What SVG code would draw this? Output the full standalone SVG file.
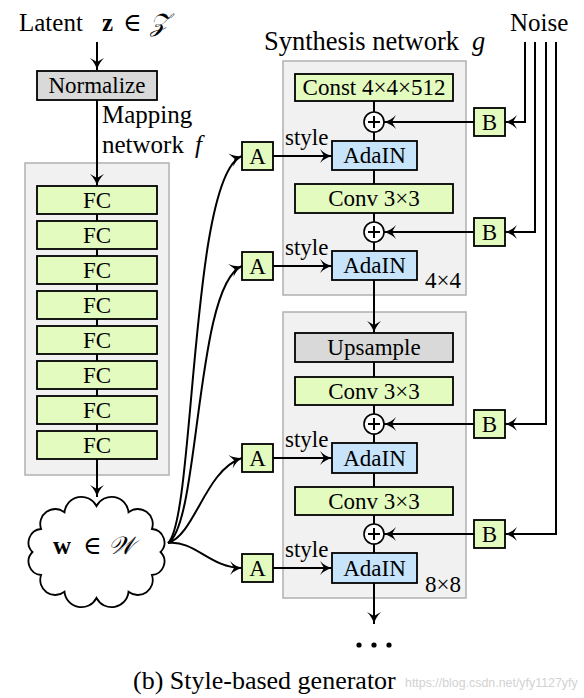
<svg xmlns="http://www.w3.org/2000/svg" width="584" height="698" viewBox="0 0 584 698">
<style>
text{font-family:"Liberation Serif","DejaVu Serif",serif;fill:#000}
.lbl{font-size:25px}
.bt{font-size:23px;text-anchor:middle}
.st{font-size:23px}
.panel{fill:#f1f1f1;stroke:#b0b0b0;stroke-width:1.5}
.g{fill:#e4fbc0;stroke:#000;stroke-width:1.8}
.b{fill:#c8e4fb;stroke:#000;stroke-width:1.8}
.gr{fill:#d9d9d9;stroke:#000;stroke-width:1.8}
.ln{fill:none;stroke:#000;stroke-width:2}
.ar{fill:none;stroke:#000;stroke-width:2;marker-end:url(#ah)}
.pl{fill:#fff;stroke:#000;stroke-width:1.6}
.wm{font-family:"Liberation Sans",sans-serif;font-size:12.4px;fill:#d2d2d2}
</style>
<defs>
<marker id="ah" viewBox="-13 -8 14 16" refX="0" refY="0" markerWidth="14" markerHeight="16" markerUnits="userSpaceOnUse" orient="auto">
<path d="M0,0 C-4,-1 -8,-3 -12,-7 L-8,0 L-12,7 C-8,3 -4,1 0,0 Z" fill="#000"/>
</marker>
</defs>

<!-- labels -->
<g id="latent-label"><text class="lbl" x="19" y="31">Latent<tspan x="102" font-weight="bold">z</tspan><tspan x="123">∈</tspan><tspan x="150" font-style="italic">𝒵</tspan></text></g>
<g id="mapping-label"><text class="lbl" x="102" y="123">Mapping</text><text class="lbl" x="102" y="153">network <tspan x="195" font-style="italic">f</tspan></text></g>
<g id="synth-label"><text x="264" y="50" style="font-size:26.5px">Synthesis network <tspan x="472" font-style="italic">g</tspan></text></g>
<g id="noise-label"><text class="lbl" x="510" y="31">Noise</text></g>

<!-- panels -->
<g id="mapping-panel"><rect class="panel" x="25" y="163" width="144" height="312"/></g>
<g id="block4"><rect class="panel" x="283" y="61" width="183" height="234"/><text class="st" x="425" y="288">4×4</text></g>
<g id="block8"><rect class="panel" x="283" y="312" width="183" height="286"/><text class="st" x="425" y="592">8×8</text></g>

<!-- connectors -->
<g id="connectors">
<path class="ar" d="M97,42 V70"/>
<path class="ar" d="M97,100 V186"/>
<path class="ln" d="M97,214 V221 M97,249 V256 M97,284 V291 M97,319 V326 M97,354 V361 M97,389 V396 M97,424 V431"/>
<path class="ar" d="M97,459 V497"/>
<path class="ar" d="M168,543 C195,520 190,175 242,156"/>
<path class="ar" d="M168,543 C200,525 195,285 242,266"/>
<path class="ar" d="M168,543 C195,535 205,470 242,458"/>
<path class="ar" d="M168,543 C195,540 210,568 242,568"/>
<path class="ar" d="M273,156 H332"/>
<path class="ar" d="M273,266 H332"/>
<path class="ar" d="M273,458 H332"/>
<path class="ar" d="M273,568 H332"/>
<path class="ln" d="M374,101 V112 M374,132 V141 M374,170 V184 M374,213 V222 M374,242 V251"/>
<path class="ar" d="M374,280 V333"/>
<path class="ln" d="M374,362 V377 M374,405 V414 M374,434 V443 M374,473 V487 M374,515 V524 M374,544 V553"/>
<path class="ar" d="M374,583 V624"/>
<path class="ar" d="M474,122 H384"/>
<path class="ar" d="M474,232 H384"/>
<path class="ar" d="M474,424 H384"/>
<path class="ar" d="M474,534 H384"/>
<path class="ar" d="M525,42 V122 H505"/>
<path class="ar" d="M535,42 V232 H505"/>
<path class="ar" d="M546,42 V424 H505"/>
<path class="ar" d="M556,42 V534 H505"/>
</g>

<!-- mapping network nodes -->
<g id="normalize"><rect class="gr" x="37" y="71" width="120" height="29"/><text class="bt" x="97" y="93">Normalize</text></g>
<g id="fc1"><rect class="g" x="37" y="186" width="120" height="28"/><text class="bt" x="97" y="208">FC</text></g>
<g id="fc2"><rect class="g" x="37" y="221" width="120" height="28"/><text class="bt" x="97" y="243">FC</text></g>
<g id="fc3"><rect class="g" x="37" y="256" width="120" height="28"/><text class="bt" x="97" y="278">FC</text></g>
<g id="fc4"><rect class="g" x="37" y="291" width="120" height="28"/><text class="bt" x="97" y="313">FC</text></g>
<g id="fc5"><rect class="g" x="37" y="326" width="120" height="28"/><text class="bt" x="97" y="348">FC</text></g>
<g id="fc6"><rect class="g" x="37" y="361" width="120" height="28"/><text class="bt" x="97" y="383">FC</text></g>
<g id="fc7"><rect class="g" x="37" y="396" width="120" height="28"/><text class="bt" x="97" y="418">FC</text></g>
<g id="fc8"><rect class="g" x="37" y="431" width="120" height="28"/><text class="bt" x="97" y="453">FC</text></g>

<!-- cloud w -->
<g id="w-cloud">
<path fill="#fff" stroke="#000" stroke-width="1.8" d="M96.5,506 A17,17 0 0 1 128.5,512.2 A15,15 0 0 1 151.9,529 A13.5,13.5 0 0 1 160.5,552 A13.5,13.5 0 0 1 151.9,575 A15,15 0 0 1 128.5,591.8 A17,17 0 0 1 96.5,598 A17,17 0 0 1 64.5,591.8 A15,15 0 0 1 41.1,575 A13.5,13.5 0 0 1 32.5,552 A13.5,13.5 0 0 1 41.1,529 A15,15 0 0 1 64.5,512.2 A17,17 0 0 1 96.5,506 Z"/>
<text class="lbl" x="53" y="554"><tspan font-weight="bold">w</tspan><tspan x="83">∈</tspan><tspan x="108" font-style="italic">𝒲</tspan></text>
</g>

<!-- A boxes -->
<g id="a1"><rect class="g" x="242" y="142" width="31" height="28"/><text class="bt" x="257.5" y="164">A</text><text class="st" x="285" y="145">style</text></g>
<g id="a2"><rect class="g" x="242" y="252" width="31" height="28"/><text class="bt" x="257.5" y="274">A</text><text class="st" x="285" y="255">style</text></g>
<g id="a3"><rect class="g" x="242" y="444" width="31" height="28"/><text class="bt" x="257.5" y="466">A</text><text class="st" x="285" y="447">style</text></g>
<g id="a4"><rect class="g" x="242" y="554" width="31" height="28"/><text class="bt" x="257.5" y="576">A</text><text class="st" x="285" y="557">style</text></g>

<!-- synthesis block 4x4 -->
<g id="const"><rect class="g" x="295" y="74" width="158" height="27"/><text class="bt" x="374" y="95">Const 4×4×512</text></g>
<g id="plus1"><circle class="pl" cx="374" cy="122" r="10"/><path class="ln" stroke-width="1.5" d="M368,122 H380 M374,116 V128"/></g>
<g id="adain1"><rect class="b" x="332" y="141" width="85" height="29"/><text class="bt" x="374.5" y="163">AdaIN</text></g>
<g id="conv1"><rect class="g" x="295" y="184" width="158" height="29"/><text class="bt" x="374" y="206">Conv 3×3</text></g>
<g id="plus2"><circle class="pl" cx="374" cy="232" r="10"/><path class="ln" stroke-width="1.5" d="M368,232 H380 M374,226 V238"/></g>
<g id="adain2"><rect class="b" x="332" y="251" width="85" height="29"/><text class="bt" x="374.5" y="273">AdaIN</text></g>

<!-- synthesis block 8x8 -->
<g id="upsample"><rect class="gr" x="295" y="333" width="158" height="29"/><text class="bt" x="374" y="355">Upsample</text></g>
<g id="conv2"><rect class="g" x="295" y="377" width="158" height="28"/><text class="bt" x="374" y="399">Conv 3×3</text></g>
<g id="plus3"><circle class="pl" cx="374" cy="424" r="10"/><path class="ln" stroke-width="1.5" d="M368,424 H380 M374,418 V430"/></g>
<g id="adain3"><rect class="b" x="332" y="443" width="85" height="30"/><text class="bt" x="374.5" y="466">AdaIN</text></g>
<g id="conv3"><rect class="g" x="295" y="487" width="158" height="28"/><text class="bt" x="374" y="509">Conv 3×3</text></g>
<g id="plus4"><circle class="pl" cx="374" cy="534" r="10"/><path class="ln" stroke-width="1.5" d="M368,534 H380 M374,528 V540"/></g>
<g id="adain4"><rect class="b" x="332" y="553" width="85" height="30"/><text class="bt" x="374.5" y="576">AdaIN</text></g>

<!-- B boxes -->
<g id="b1"><rect class="g" x="474" y="108" width="31" height="28"/><text class="bt" x="489.5" y="130">B</text></g>
<g id="b2"><rect class="g" x="474" y="218" width="31" height="28"/><text class="bt" x="489.5" y="240">B</text></g>
<g id="b3"><rect class="g" x="474" y="410" width="31" height="28"/><text class="bt" x="489.5" y="432">B</text></g>
<g id="b4"><rect class="g" x="474" y="520" width="31" height="28"/><text class="bt" x="489.5" y="542">B</text></g>

<!-- ellipsis and caption -->
<g id="dots"><circle cx="359" cy="645" r="2.6"/><circle cx="374" cy="645" r="2.6"/><circle cx="389" cy="645" r="2.6"/></g>
<g id="caption"><text x="133" y="689" style="font-size:26px">(b) Style-based generator</text></g>
<g id="watermark"><text class="wm" x="405" y="687">https://blog.csdn.net/yfy1127yfy</text></g>
</svg>
